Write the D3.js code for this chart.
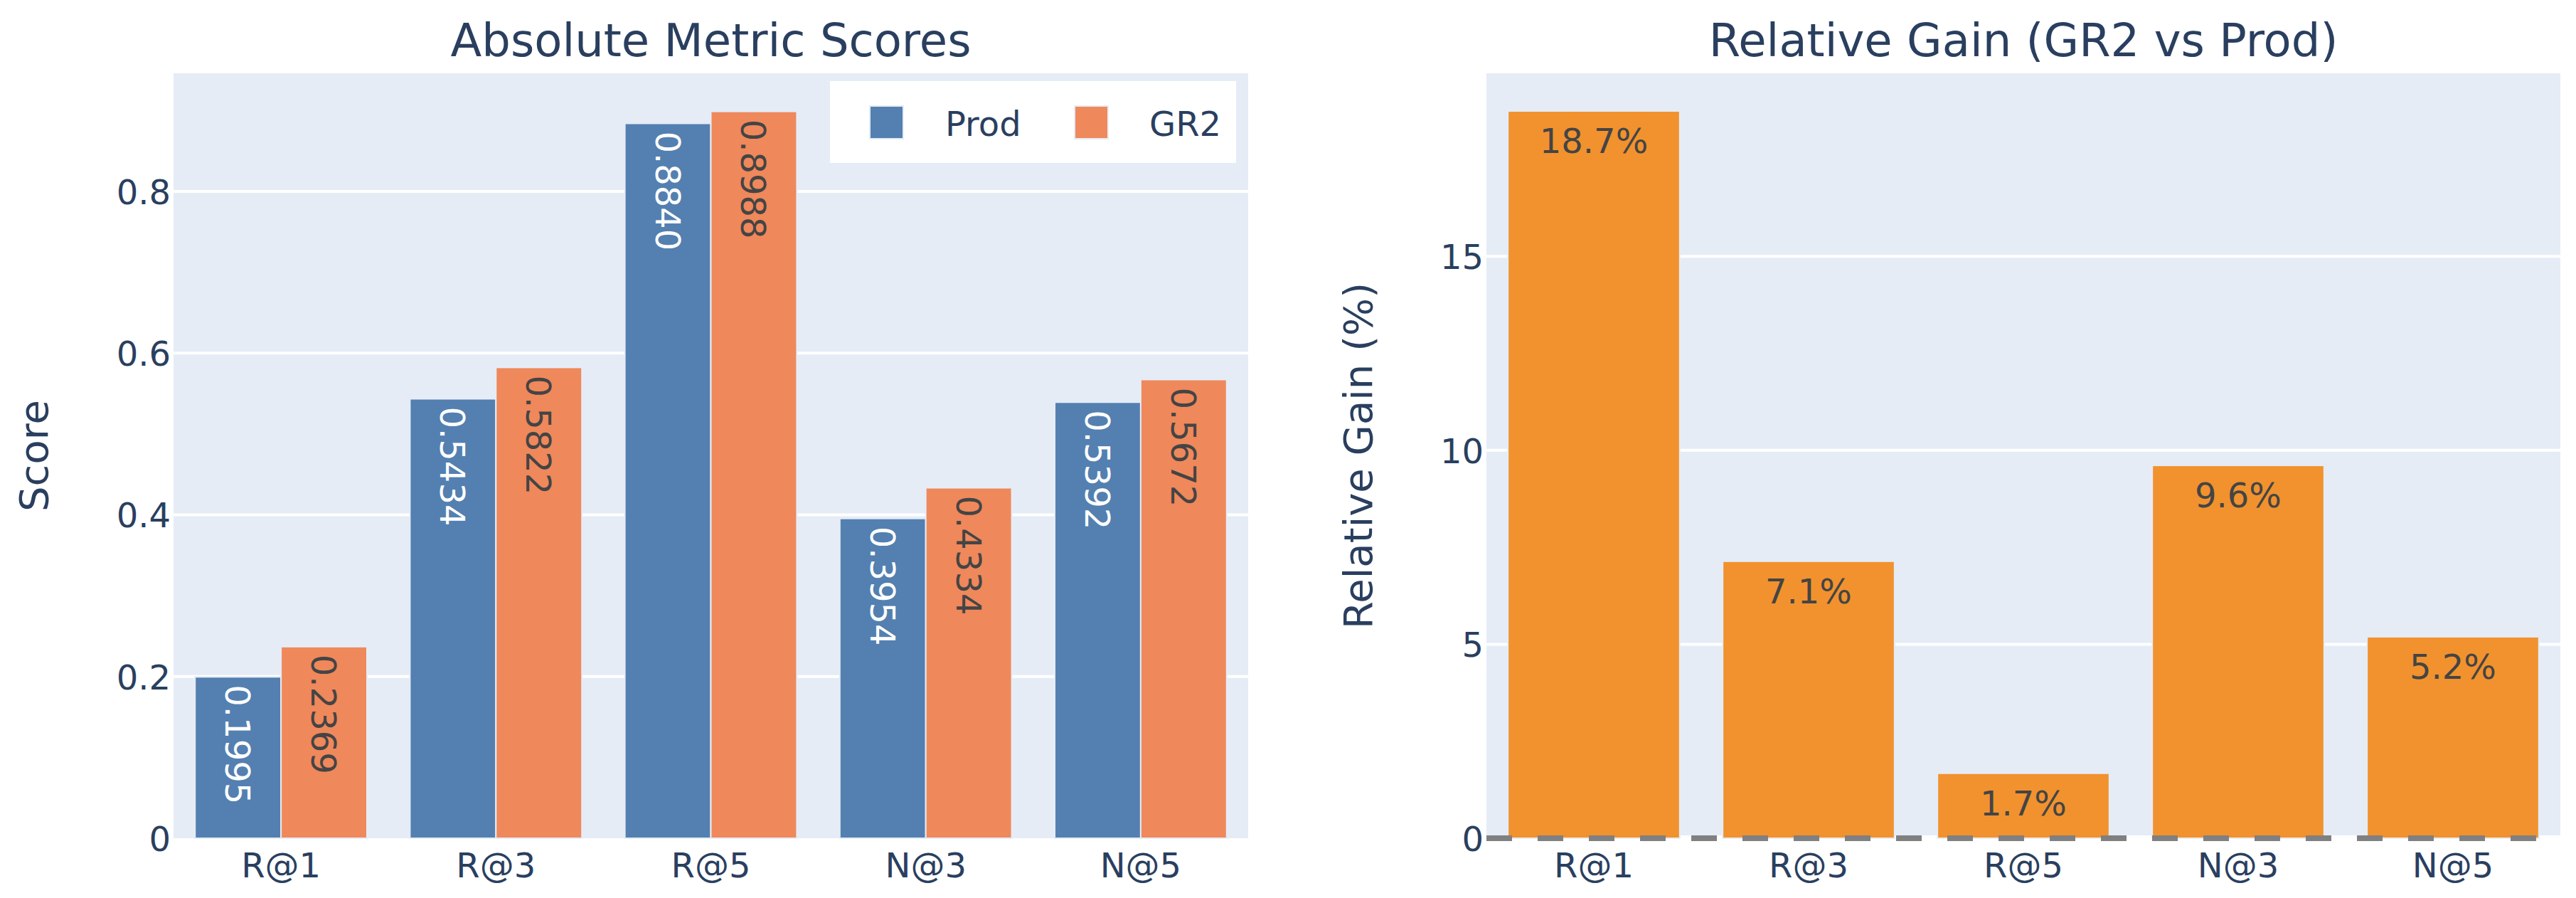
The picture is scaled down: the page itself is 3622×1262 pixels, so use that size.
<!DOCTYPE html>
<html>
<head>
<meta charset="utf-8">
<script src="https://cdn.jsdelivr.net/npm/d3@7"></script>
<style>
  html, body { margin: 0; padding: 0; background: #ffffff; }
  svg { display: block; font-family: "DejaVu Sans", Verdana, sans-serif; }
</style>
</head>
<body>
<svg id="chart" width="3622" height="1262"></svg>
<script>
// ---- data ----
const metrics = ["R@1", "R@3", "R@5", "N@3", "N@5"];
const seriesNames = ["Prod", "GR2"];
const prodScores = [0.1995, 0.5434, 0.8840, 0.3954, 0.5392];
const gr2Scores = [0.2369, 0.5822, 0.8988, 0.4334, 0.5672];
const relGain = [18.747, 7.140, 1.674, 9.611, 5.193];
const leftTicks = [0, 0.2, 0.4, 0.6, 0.8];
const rightTicks = [0, 5, 10, 15];
const titles = ["Absolute Metric Scores", "Relative Gain (GR2 vs Prod)"];
const yTitles = ["Score", "Relative Gain (%)"];

(function () {
// ---- styles ----
const C = {
  bg: "#E5ECF6", text: "#2a3f5f", prod: "#5380b0", gr2: "#ef885b",
  gain: "#f1922e", barStroke: "#E5ECF6", dark: "#444444"
};

const svg = d3.select("#chart");
svg.append("rect").attr("width", 3622).attr("height", 1262).attr("fill", "#fff");

const plotTop = 103, plotBottom = 1178;
const L = { x0: 244, x1: 1755 };
const R = { x0: 2090, x1: 3600 };

function panel(p, yMax, ticks, tickFmt, title, yTitle, yTitleX) {
  const x = d3.scaleBand().domain(metrics).range([p.x0, p.x1]).paddingInner(0.2).paddingOuter(0.1);
  const y = d3.scaleLinear().domain([0, yMax]).range([plotBottom, plotTop]);
  const g = svg.append("g");
  g.append("rect").attr("x", p.x0).attr("y", plotTop).attr("width", p.x1 - p.x0).attr("height", plotBottom - plotTop).attr("fill", C.bg);
  g.selectAll(".grid").data(ticks.filter(t => t > 0)).join("line")
    .attr("x1", p.x0).attr("x2", p.x1)
    .attr("y1", d => y(d)).attr("y2", d => y(d))
    .attr("stroke", "#fff").attr("stroke-width", 4);
  const ya = d3.axisLeft(y).tickValues(ticks).tickFormat(tickFmt).tickSize(0).tickPadding(4);
  const yg = g.append("g").attr("transform", `translate(${p.x0},0)`).call(ya);
  yg.select(".domain").remove();
  yg.selectAll("text").attr("font-size", 48).attr("fill", C.text)
    .attr("font-family", "DejaVu Sans").attr("dy", "0.36em");
  const xa = d3.axisBottom(x).tickSize(0).tickPadding(0);
  const xg = g.append("g").attr("transform", `translate(0,${plotBottom})`).call(xa);
  xg.select(".domain").remove();
  xg.selectAll("text").attr("font-size", 48).attr("fill", C.text)
    .attr("font-family", "DejaVu Sans").attr("y", 55).attr("dy", 0);
  svg.append("text").attr("x", (p.x0 + p.x1) / 2).attr("y", 79)
    .attr("text-anchor", "middle").attr("font-size", 64).attr("fill", C.text).text(title);
  svg.append("text").attr("transform", `translate(${yTitleX},${(plotTop + plotBottom) / 2}) rotate(-90)`)
    .attr("text-anchor", "middle").attr("font-size", 56).attr("fill", C.text).text(yTitle);
  return { x, y, g };
}

// ---- left panel ----
const lp = panel(L, 0.946, leftTicks, d => d === 0 ? "0" : d3.format(".1f")(d), titles[0], yTitles[0], 67);
const sub = d3.scaleBand().domain(seriesNames).range([0, lp.x.bandwidth()]);
const leftData = [];
metrics.forEach((m, i) => {
  leftData.push({ m, s: "Prod", v: prodScores[i] });
  leftData.push({ m, s: "GR2", v: gr2Scores[i] });
});
lp.g.selectAll(".lbar").data(leftData).join("rect")
  .attr("x", d => lp.x(d.m) + sub(d.s))
  .attr("y", d => lp.y(d.v))
  .attr("width", sub.bandwidth())
  .attr("height", d => lp.y(0) - lp.y(d.v))
  .attr("fill", d => d.s === "Prod" ? C.prod : C.gr2)
  .attr("stroke", C.barStroke).attr("stroke-width", 2);
lp.g.selectAll(".llab").data(leftData).join("text")
  .attr("transform", d => `translate(${lp.x(d.m) + sub(d.s) + sub.bandwidth() / 2 - 17.5},${lp.y(d.v) + 11}) rotate(90)`)
  .attr("text-anchor", "start").attr("font-size", 48)
  .attr("fill", d => d.s === "Prod" ? "#ffffff" : C.dark)
  .text(d => d3.format(".4f")(d.v));

// legend
const leg = svg.append("g");
leg.append("rect").attr("x", 1167).attr("y", 114).attr("width", 571).attr("height", 115).attr("fill", "#fff");
const legItems = [
  { name: seriesNames[0], color: C.prod, sx: 1223, tx: 1329 },
  { name: seriesNames[1], color: C.gr2, sx: 1511, tx: 1616 }
];
legItems.forEach(it => {
  leg.append("rect").attr("x", it.sx).attr("y", 149).attr("width", 47).attr("height", 46)
    .attr("fill", it.color).attr("stroke", C.barStroke).attr("stroke-width", 2);
  leg.append("text").attr("x", it.tx).attr("y", 191).attr("font-size", 48).attr("fill", C.text).text(it.name);
});

// ---- right panel ----
const rp = panel(R, 19.72, rightTicks, d => String(d), titles[1], yTitles[1], 1929);
rp.g.append("line").attr("x1", R.x0).attr("x2", R.x1).attr("y1", rp.y(0)).attr("y2", rp.y(0))
  .attr("stroke", "#fff").attr("stroke-width", 8);
const rightData = metrics.map((m, i) => ({ m, v: relGain[i] }));
rp.g.selectAll(".rbar").data(rightData).join("rect")
  .attr("x", d => rp.x(d.m)).attr("y", d => rp.y(d.v))
  .attr("width", rp.x.bandwidth()).attr("height", d => rp.y(0) - rp.y(d.v))
  .attr("fill", C.gain).attr("stroke", C.barStroke).attr("stroke-width", 2);
rp.g.selectAll(".rlab").data(rightData).join("text")
  .attr("x", d => rp.x(d.m) + rp.x.bandwidth() / 2).attr("y", d => rp.y(d.v) + 59)
  .attr("text-anchor", "middle").attr("font-size", 48).attr("fill", C.dark)
  .text(d => d3.format(".1f")(d.v) + "%");
rp.g.append("line").attr("x1", R.x0).attr("x2", R.x1).attr("y1", rp.y(0)).attr("y2", rp.y(0))
  .attr("stroke", "#808080").attr("stroke-width", 8).attr("stroke-dasharray", "36,36");
})();
</script>
</body>
</html>
